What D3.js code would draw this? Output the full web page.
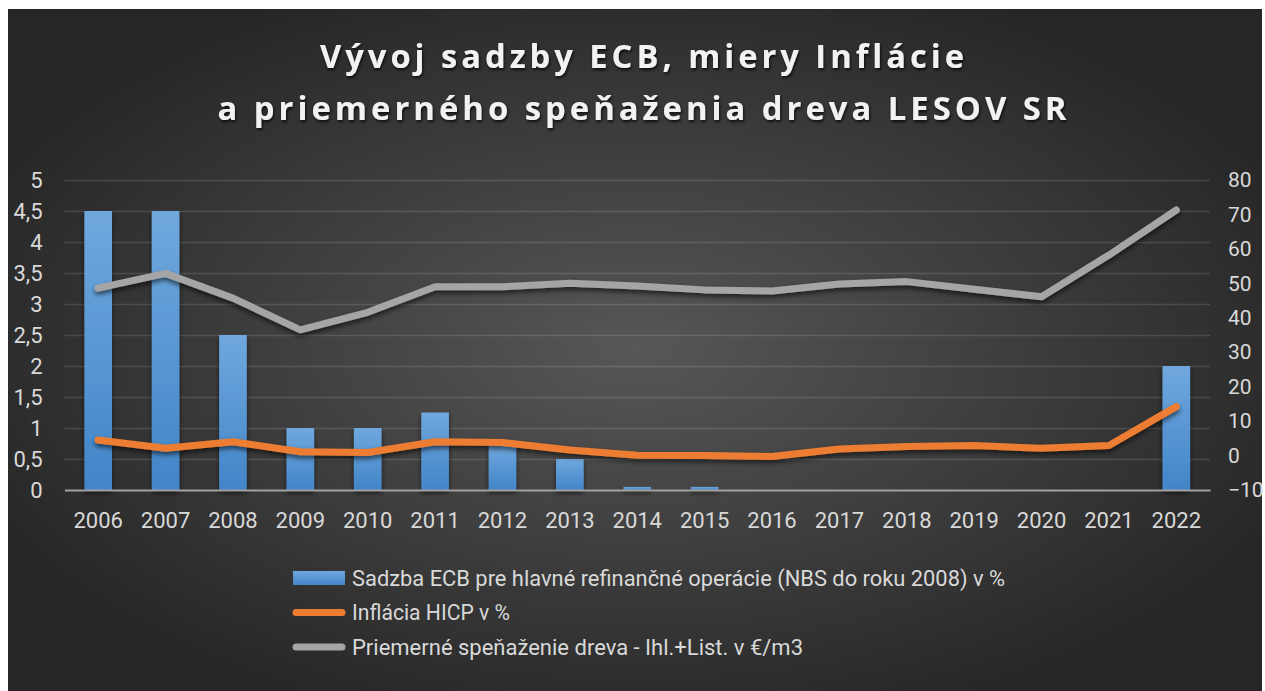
<!DOCTYPE html>
<html>
<head>
<meta charset="utf-8">
<script src="https://cdn.jsdelivr.net/npm/d3@7"></script>
<style>
  body { margin: 0; background: #fff; }
  svg text { font-family: Roboto, "Open Sans", sans-serif; }
</style>
</head>
<body>
<svg id="chart" width="1265" height="691"></svg>
<script>
// data
const years = ['2006', '2007', '2008', '2009', '2010', '2011', '2012', '2013', '2014', '2015', '2016', '2017', '2018', '2019', '2020', '2021', '2022'];
const ecbRate = [4.5, 4.5, 2.5, 1, 1, 1.25, 0.75, 0.5, 0.05, 0.05, 0, 0, 0, 0, 0, 0, 2];
const inflation = [4.5, 2.1, 4.0, 1.1, 0.9, 4.0, 3.8, 1.6, 0.1, 0, -0.3, 1.9, 2.6, 2.9, 2.1, 2.9, 14.2];
const woodPrice = [48.6, 52.9, 45.7, 36.5, 41.6, 49.0, 49.0, 50.0, 49.2, 48.1, 47.8, 49.8, 50.5, 48.3, 46.1, 58.2, 71.3];
const leftTicks = [0, 0.5, 1, 1.5, 2, 2.5, 3, 3.5, 4, 4.5, 5];
const rightTicks = [-10, 0, 10, 20, 30, 40, 50, 60, 70, 80];
const titleLines = ['Vývoj sadzby ECB, miery Inflácie', 'a priemerného speňaženia dreva LESOV SR'];
const seriesNames = ['Sadzba ECB pre hlavné refinančné operácie (NBS do roku 2008) v %', 'Inflácia HICP v %', 'Priemerné speňaženie dreva - Ihl.+List. v €/m3'];

const svg = d3.select('#chart');
const margin = { top: 180, right: 55, bottom: 201, left: 64.5 };
const width = 1265 - margin.left - margin.right;
const height = 691 - margin.top - margin.bottom;

const defs = svg.append('defs');
const bg = defs.append('radialGradient').attr('id', 'bg').attr('cx', 0.5).attr('cy', 0.5).attr('r', 0.58);
bg.append('stop').attr('offset', 0).attr('stop-color', '#575757');
bg.append('stop').attr('offset', 1).attr('stop-color', '#262626');

const barGrad = defs.append('linearGradient').attr('id', 'barGrad').attr('x1', 0).attr('y1', 0).attr('x2', 0).attr('y2', 1);
barGrad.append('stop').attr('offset', 0).attr('stop-color', '#70a8de');
barGrad.append('stop').attr('offset', 1).attr('stop-color', '#4285c8');

const shadow = defs.append('filter').attr('id', 'shadow').attr('x', '-10%').attr('y', '-20%').attr('width', '120%').attr('height', '150%');
shadow.append('feDropShadow').attr('dx', 0).attr('dy', 3).attr('stdDeviation', 2.5).attr('flood-color', '#000').attr('flood-opacity', 0.6);

const tshadow = defs.append('filter').attr('id', 'tshadow');
tshadow.append('feDropShadow').attr('dx', 1).attr('dy', 2).attr('stdDeviation', 1.5).attr('flood-color', '#000').attr('flood-opacity', 0.75);

// background
svg.append('rect').attr('x', 8).attr('y', 9).attr('width', 1254).attr('height', 682).attr('fill', 'url(#bg)');

// title (narrow bold letters, spaced out)
svg.append('g')
  .selectAll('text')
  .data(titleLines)
  .enter()
  .append('text')
  .attr('x', 644)
  .attr('y', (d, i) => 68 + i * 52)
  .attr('text-anchor', 'middle')
  .attr('fill', '#f2f2f2')
  .attr('filter', 'url(#tshadow)')
  .style('font-family', '"Open Sans", sans-serif')
  .style('font-weight', 'bold')
  .style('font-size', '33px')
  .style('letter-spacing', '4px')
  .attr('textLength', (d, i) => [648, 853][i])
  .attr('lengthAdjust', 'spacingAndGlyphs')
  .text(d => d);

const x = d3.scaleBand().domain(years).range([margin.left, margin.left + width]).paddingInner(0.59).paddingOuter(0.295);
const yLeft = d3.scaleLinear().domain([0, 5]).range([margin.top + height, margin.top]);
const yRight = d3.scaleLinear().domain([-10, 80]).range([margin.top + height, margin.top]);
const cx = d => x(d) + x.bandwidth() / 2;

// gridlines
svg.append('g')
  .attr('transform', `translate(${margin.left},0)`)
  .call(d3.axisLeft(yLeft).tickValues(leftTicks.slice(1)).tickSize(-width).tickFormat(''))
  .call(g => g.select('.domain').remove())
  .call(g => g.selectAll('line').attr('stroke', 'rgba(255,255,255,0.13)').attr('stroke-width', 1.5));

// bars
svg.append('g')
  .attr('filter', 'url(#shadow)')
  .selectAll('rect')
  .data(ecbRate)
  .enter()
  .append('rect')
  .attr('x', (d, i) => x(years[i]))
  .attr('y', d => yLeft(d))
  .attr('width', x.bandwidth())
  .attr('height', d => yLeft(0) - yLeft(d))
  .attr('fill', 'url(#barGrad)');

// category axis
svg.append('g')
  .attr('transform', `translate(0,${yLeft(0)})`)
  .call(d3.axisBottom(x).tickSize(0).tickPadding(22))
  .call(g => g.select('.domain').attr('stroke', '#a0a0a0').attr('stroke-width', 2))
  .call(g => g.selectAll('text').attr('fill', '#d9d9d9').style('font-size', '22px').style('font-family', 'Roboto, sans-serif'));

// value axes
svg.append('g')
  .attr('transform', `translate(${margin.left},0)`)
  .call(d3.axisLeft(yLeft).tickValues(leftTicks).tickSize(0).tickPadding(22).tickFormat(d => String(d).replace('.', ',')))
  .call(g => g.select('.domain').remove())
  .call(g => g.selectAll('text').attr('fill', '#d9d9d9').style('font-size', '22px').style('font-family', 'Roboto, sans-serif'));

svg.append('g')
  .attr('transform', `translate(${margin.left + width},0)`)
  .call(d3.axisRight(yRight).tickValues(rightTicks).tickSize(0).tickPadding(18))
  .call(g => g.select('.domain').remove())
  .call(g => g.selectAll('text').attr('fill', '#d9d9d9').style('font-size', '21px').style('font-family', 'Roboto, sans-serif'));

// lines on the right axis
const line = d3.line().x((d, i) => cx(years[i])).y(d => yRight(d));
const lineSeries = [
  { values: woodPrice, color: '#a5a5a5' },
  { values: inflation, color: '#ed7d31' }
];
svg.append('g')
  .selectAll('path')
  .data(lineSeries)
  .enter()
  .append('path')
  .attr('d', d => line(d.values))
  .attr('fill', 'none')
  .attr('stroke', d => d.color)
  .attr('stroke-width', 7)
  .attr('stroke-linecap', 'round')
  .attr('stroke-linejoin', 'round')
  .attr('filter', 'url(#shadow)');

// legend
const legend = svg.append('g').attr('transform', 'translate(293,578)');
const legendColors = ['url(#barGrad)', '#ed7d31', '#a5a5a5'];
const legendLengths = [653, 158, 451];
seriesNames.forEach((name, i) => {
  const row = legend.append('g').attr('transform', `translate(0,${i * 34.5})`);
  if (i === 0) {
    row.append('rect').attr('x', 0).attr('y', -7).attr('width', 52).attr('height', 14).attr('fill', legendColors[i]);
  } else {
    row.append('line').attr('x1', 3).attr('x2', 49).attr('y1', 0).attr('y2', 0)
      .attr('stroke', legendColors[i]).attr('stroke-width', 7).attr('stroke-linecap', 'round');
  }
  row.append('text')
    .attr('x', 59)
    .attr('y', 0)
    .attr('dy', '0.35em')
    .attr('fill', '#d9d9d9')
    .style('font-size', '22px')
    .attr('textLength', legendLengths[i])
    .attr('lengthAdjust', 'spacingAndGlyphs')
    .text(name);
});
</script>
</body>
</html>
